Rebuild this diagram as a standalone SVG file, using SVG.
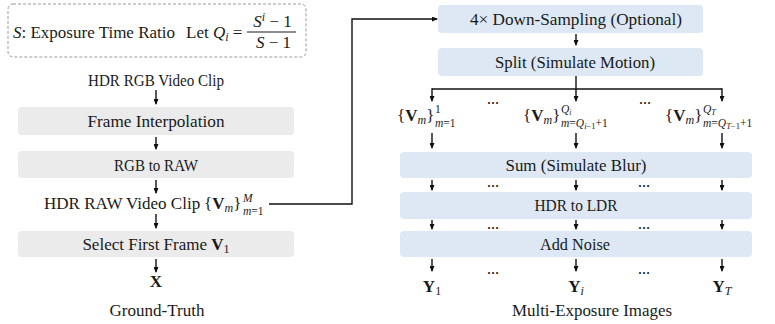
<svg xmlns="http://www.w3.org/2000/svg" width="775" height="324" viewBox="0 0 775 324">
<defs>
<style>
.t{font-family:"Liberation Serif","Times New Roman",serif;font-size:17px;fill:#1a1a1a}
.s{font-family:"Liberation Serif","Times New Roman",serif;font-size:11.5px;fill:#1a1a1a}
.b{font-weight:bold}
.i{font-style:italic}
.gbox{fill:#ebebeb}
.bbox{fill:#dde8f4}
.ln{fill:none;stroke:#111;stroke-width:1.4}
.ar{fill:none;stroke:#111;stroke-width:1.4;marker-end:url(#ah)}
.dots{font-family:"Liberation Serif",serif;font-size:12px;font-weight:bold;fill:#111;text-anchor:middle}
</style>
<marker id="ah" viewBox="0 0 6 5" refX="5" refY="2.5" markerWidth="6" markerHeight="5" markerUnits="userSpaceOnUse" orient="auto">
<path d="M0,0 L6,2.5 L0,5 z" fill="#111"/>
</marker>
</defs>

<g id="legend">
<rect x="8" y="4" width="298" height="53" rx="5" fill="none" stroke="#9a9a9a" stroke-width="1" stroke-dasharray="3,2"/>
<text class="t" x="13" y="38" textLength="162" lengthAdjust="spacingAndGlyphs"><tspan class="i">S</tspan>: Exposure Time Ratio</text>
<text class="t" x="186" y="38">Let <tspan class="i">Q</tspan><tspan class="i" font-size="12" dy="3">i</tspan><tspan dy="-3"> =</tspan></text>
<line x1="247" y1="32" x2="296" y2="32" stroke="#1a1a1a" stroke-width="1"/>
<text class="t" x="272.5" y="27" text-anchor="middle"><tspan class="i">S</tspan><tspan class="i" font-size="12" dy="-6">i</tspan><tspan dy="6"> − 1</tspan></text>
<text class="t" x="273.5" y="47.5" text-anchor="middle"><tspan class="i">S</tspan> − 1</text>
</g>

<g id="hdr-rgb">
<text class="t" x="156" y="86" text-anchor="middle" textLength="136" lengthAdjust="spacingAndGlyphs">HDR RGB Video Clip</text>
</g>
<g id="frame-interp">
<rect class="gbox" x="18" y="107" width="276" height="28" rx="4"/>
<text class="t" x="156" y="126.5" text-anchor="middle" textLength="137" lengthAdjust="spacingAndGlyphs">Frame Interpolation</text>
</g>
<g id="rgb-to-raw">
<rect class="gbox" x="18" y="151" width="276" height="27" rx="4"/>
<text class="t" x="156" y="170.5" text-anchor="middle" textLength="84" lengthAdjust="spacingAndGlyphs">RGB to RAW</text>
</g>
<g id="hdr-raw">
<text class="t" x="44" y="209" font-size="16.5">HDR RAW Video Clip</text>
<text class="t" x="204" y="209">{<tspan class="b">V</tspan><tspan class="i" font-size="12" dy="3">m</tspan><tspan dy="-3">}</tspan></text>
<text class="s i" x="243" y="201.5">M</text>
<text class="s" x="243" y="214.5"><tspan class="i">m</tspan>=1</text>
</g>
<g id="select-first">
<rect class="gbox" x="18" y="231" width="276" height="26" rx="4"/>
<text class="t" x="156" y="250" text-anchor="middle">Select First Frame <tspan class="b">V</tspan><tspan font-size="12" dy="3">1</tspan></text>
</g>
<g id="gt">
<text class="t b" x="156" y="287" text-anchor="middle" font-size="16.5">X</text>
<text class="t" x="157" y="316" text-anchor="middle" textLength="95" lengthAdjust="spacingAndGlyphs">Ground-Truth</text>
</g>

<g id="downsample">
<rect class="bbox" x="438" y="5" width="265" height="28" rx="4"/>
<text class="t" x="576" y="24.5" text-anchor="middle" textLength="212" lengthAdjust="spacingAndGlyphs">4× Down-Sampling (Optional)</text>
</g>
<g id="split">
<rect class="bbox" x="438" y="48" width="265" height="28" rx="4"/>
<text class="t" x="575" y="67.5" text-anchor="middle" textLength="160" lengthAdjust="spacingAndGlyphs">Split (Simulate Motion)</text>
</g>

<g id="v-first">
<text class="t" x="397" y="121">{<tspan class="b">V</tspan><tspan class="i" font-size="12" dy="3">m</tspan><tspan dy="-3">}</tspan></text>
<text class="s" x="435" y="113">1</text>
<text class="s" x="435" y="126.5"><tspan class="i">m</tspan>=1</text>
</g>
<g id="v-mid">
<text class="t" x="523" y="121">{<tspan class="b">V</tspan><tspan class="i" font-size="12" dy="3">m</tspan><tspan dy="-3">}</tspan></text>
<text class="s" x="561" y="113"><tspan class="i">Q</tspan><tspan class="i" font-size="8" dy="1.5">i</tspan></text>
<text class="s" x="561" y="126.5"><tspan class="i">m</tspan>=<tspan class="i">Q</tspan><tspan font-size="8.5" dy="2"><tspan class="i">i</tspan>−1</tspan><tspan dy="-2">+1</tspan></text>
</g>
<g id="v-last">
<text class="t" x="665" y="121">{<tspan class="b">V</tspan><tspan class="i" font-size="12" dy="3">m</tspan><tspan dy="-3">}</tspan></text>
<text class="s" x="703" y="113"><tspan class="i">Q</tspan><tspan class="i" font-size="8" dy="1.5">T</tspan></text>
<text class="s" x="703" y="126.5"><tspan class="i">m</tspan>=<tspan class="i">Q</tspan><tspan font-size="8.5" dy="2"><tspan class="i">T</tspan>−1</tspan><tspan dy="-2">+1</tspan></text>
</g>

<g id="sum">
<rect class="bbox" x="400" y="152" width="352" height="26" rx="4"/>
<text class="t" x="576" y="170.5" text-anchor="middle" textLength="141" lengthAdjust="spacingAndGlyphs">Sum (Simulate Blur)</text>
</g>
<g id="hdr-ldr">
<rect class="bbox" x="400" y="192" width="352" height="27" rx="4"/>
<text class="t" x="576" y="210.5" text-anchor="middle" textLength="83" lengthAdjust="spacingAndGlyphs">HDR to LDR</text>
</g>
<g id="noise">
<rect class="bbox" x="400" y="231" width="352" height="26" rx="4"/>
<text class="t" x="575" y="250" text-anchor="middle" textLength="70" lengthAdjust="spacingAndGlyphs">Add Noise</text>
</g>

<g id="outputs">
<text class="t b" x="432" y="292" text-anchor="middle" font-size="16.5">Y<tspan font-weight="normal" font-size="12" dy="3">1</tspan></text>
<text class="t b" x="576" y="292" text-anchor="middle" font-size="16.5">Y<tspan font-weight="normal" class="i" font-size="12" dy="3">i</tspan></text>
<text class="t b" x="722" y="292" text-anchor="middle" font-size="16.5">Y<tspan font-weight="normal" class="i" font-size="12" dy="3">T</tspan></text>
<text class="t" x="592" y="316" text-anchor="middle" textLength="160" lengthAdjust="spacingAndGlyphs">Multi-Exposure Images</text>
</g>

<g id="ellipses">
<text class="dots" x="493" y="104">…</text>
<text class="dots" x="645" y="104">…</text>
<text class="dots" x="493" y="187">…</text>
<text class="dots" x="644" y="187">…</text>
<text class="dots" x="493" y="229">…</text>
<text class="dots" x="644" y="229">…</text>
<text class="dots" x="493" y="274">…</text>
<text class="dots" x="644" y="274">…</text>
</g>

<g id="connectors">
<path class="ar" d="M156,90 V104"/>
<path class="ar" d="M156,137 V149"/>
<path class="ar" d="M156,180 V193"/>
<path class="ar" d="M156,214 V228"/>
<path class="ar" d="M156,259 V272"/>
<path class="ar" d="M269,204 H352 V19 H437"/>
<path class="ar" d="M576,34 V45"/>
<path class="ar" d="M576,76 V101"/>
<path class="ln" d="M432,89 H722"/>
<path class="ar" d="M432,88.3 V101"/>
<path class="ar" d="M722,88.3 V101"/>
<path class="ar" d="M432,133 V148"/>
<path class="ar" d="M576,133 V148"/>
<path class="ar" d="M722,133 V148"/>
<path class="ar" d="M432,180 V190"/>
<path class="ar" d="M576,180 V190"/>
<path class="ar" d="M722,180 V190"/>
<path class="ar" d="M432,220 V229"/>
<path class="ar" d="M576,220 V229"/>
<path class="ar" d="M722,220 V229"/>
<path class="ar" d="M432,259 V271"/>
<path class="ar" d="M576,259 V271"/>
<path class="ar" d="M722,259 V271"/>
</g>
</svg>
